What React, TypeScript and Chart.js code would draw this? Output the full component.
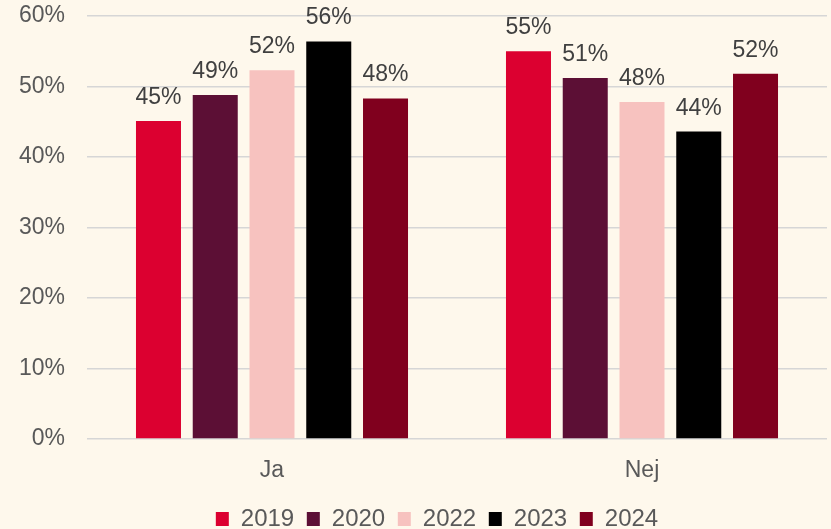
import React, { useEffect, useRef } from "react";
import { Chart, registerables } from "chart.js";

Chart.register(...registerables);

const categories = ["Ja", "Nej"];
const seriesNames = ["2019", "2020", "2022", "2023", "2024"];
const values2019 = [45.1, 55.0];
const values2020 = [48.8, 51.2];
const values2022 = [52.3, 47.8];
const values2023 = [56.4, 43.6];
const values2024 = [48.3, 51.8];
const yTicks = [0, 10, 20, 30, 40, 50, 60];
const seriesColors = ["#DC0030", "#5C0F35", "#F7C2BF", "#000000", "#80001E"];

const BG = "#FEF8EC";
const FONT = "'Liberation Sans', Arial, sans-serif";

export default function App() {
  const ref = useRef<HTMLCanvasElement | null>(null);

  useEffect(() => {
    document.body.style.margin = "0";
    document.body.style.background = BG;
    document.body.style.overflow = "hidden";
    const canvas = ref.current;
    if (!canvas) return;
    const allValues = [values2019, values2020, values2022, values2023, values2024];

    const bgPlugin = {
      id: "bgFill",
      beforeDraw(chart: any) {
        const c = chart.ctx;
        c.save();
        c.fillStyle = BG;
        c.fillRect(0, 0, chart.width, chart.height);
        c.restore();
      },
    };

    const legendShift = {
      id: "legendShift",
      afterLayout(chart: any) {
        if (chart.legend) chart.legend.left = 47;
      },
    };

    const labelPlugin = {
      id: "barLabels",
      afterDatasetsDraw(chart: any) {
        const c = chart.ctx;
        c.save();
        c.font = `23px ${FONT}`;
        c.fillStyle = "#404040";
        c.textAlign = "center";
        c.textBaseline = "alphabetic";
        chart.data.datasets.forEach((ds: any, di: number) => {
          const meta = chart.getDatasetMeta(di);
          meta.data.forEach((el: any, i: number) => {
            const v = ds.data[i];
            c.fillText(Math.round(v) + "%", el.x, el.y - 17);
          });
        });
        c.restore();
      },
    };

    const chart = new Chart(canvas, {
      type: "bar",
      data: {
        labels: categories,
        datasets: seriesNames.map((name, i) => ({
          label: name,
          data: allValues[i],
          backgroundColor: seriesColors[i],
          borderWidth: 0,
          categoryPercentage: 0.767,
          barPercentage: 0.793,
        })),
      },
      options: {
        animation: false,
        responsive: false,
        devicePixelRatio: 1,
        layout: { padding: { left: 0, right: 4, top: 16, bottom: 0 } },
        plugins: {
          legend: {
            position: "bottom",
            labels: {
              boxWidth: 13,
              boxHeight: 14,
              padding: 12.6,
              color: "#595959",
              font: { family: FONT, size: 24 },
            },
          },
          tooltip: { enabled: false },
        },
        scales: {
          x: {
            grid: { display: false, drawTicks: false },
            border: { display: false },
            ticks: {
              color: "#595959",
              font: { family: FONT, size: 23 },
              padding: 18,
            },
            afterFit(scale: any) {
              scale.height = 55.4;
              scale.paddingLeft = 0;
              scale.paddingRight = 0;
            },
          },
          y: {
            min: 0,
            max: 60,
            afterBuildTicks(scale: any) {
              scale.ticks = yTicks.map((v) => ({ value: v }));
            },
            grid: { color: "#D6D6D6", lineWidth: 1.5, drawTicks: false },
            border: { display: false },
            ticks: {
              color: "#595959",
              font: { family: FONT, size: 23 },
              padding: 22,
              callback: (v: any) => v + "%",
            },
            afterFit(scale: any) {
              scale.width = 87;
              scale.paddingTop = 0;
              scale.paddingBottom = 0;
            },
          },
        },
      },
      plugins: [bgPlugin, legendShift, labelPlugin],
    });
    return () => chart.destroy();
  }, []);

  return (
    <div style={{ width: 831, height: 541, background: BG }}>
      <canvas ref={ref} width={831} height={541} style={{ display: "block" }} />
    </div>
  );
}
